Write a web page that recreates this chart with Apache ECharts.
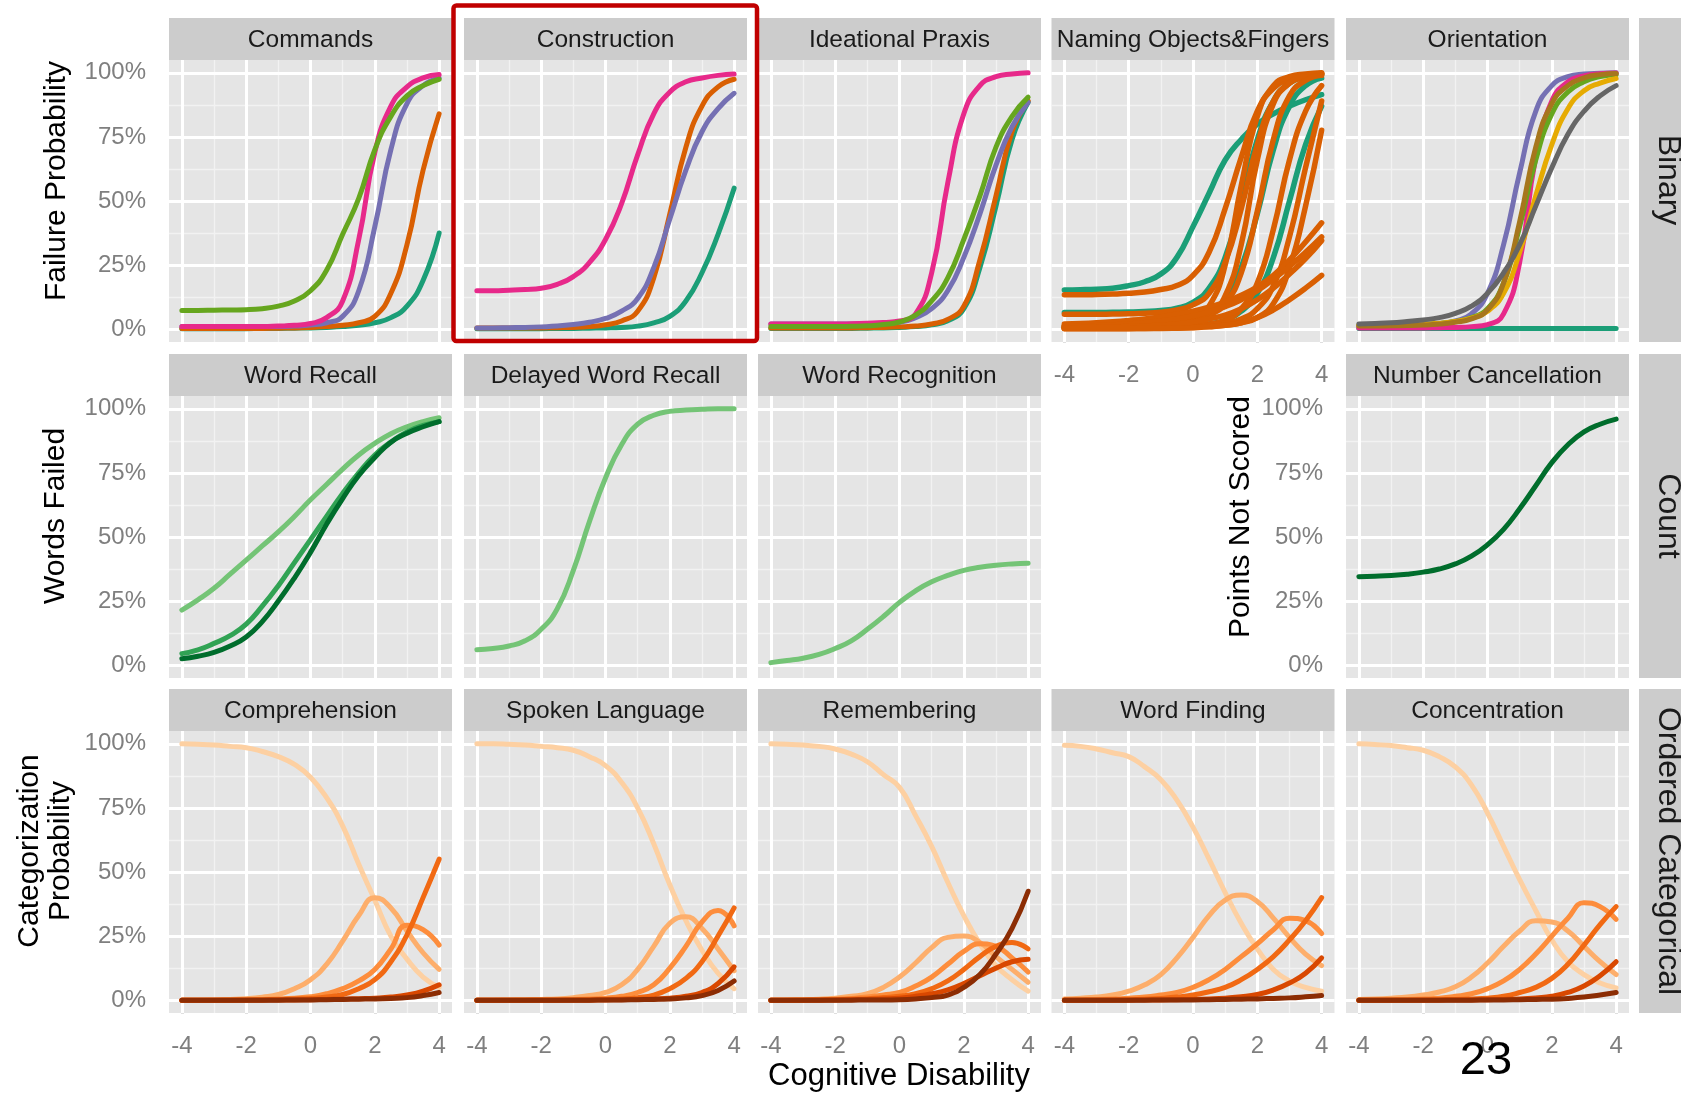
<!DOCTYPE html>
<html>
<head>
<meta charset="utf-8">
<script src="https://cdn.jsdelivr.net/npm/echarts@6/dist/echarts.min.js"></script>
<style>
html, body { margin: 0; padding: 0; background: #ffffff; }
#chart { width: 1681px; height: 1094px; }
</style>
</head>
<body>
<div id="chart"></div>
<script>
// Cognitive disability grid shared by every curve
const theta = [-4, -3.5, -3, -2.5, -2, -1.5, -1, -0.5, 0, 0.5, 1, 1.5, 2, 2.5, 3, 3.5, 4];
const xTicks = [-4, -2, 0, 2, 4];
const xMinor = [-3, -1, 1, 3];
const yTicks = [0, 25, 50, 75, 100];
const yMinor = [12.5, 37.5, 62.5, 87.5];

// ---- Binary items: failure probability (%) ----
const cmdGreen  = [7.3, 7.3, 7.4, 7.5, 7.6, 8, 9, 11, 15, 23, 37, 51, 70, 83, 91, 95, 97.5];
const cmdPink   = [1, 1, 1, 1, 1, 1, 1.2, 1.5, 2.2, 4.5, 11, 35, 69, 87, 94.5, 98, 99.3];
const cmdPurple = [1, 1, 1, 1, 1, 1, 1, 1.2, 1.6, 2.5, 5, 15, 40, 70, 88, 95, 98];
const cmdOrange = [0.3, 0.3, 0.3, 0.3, 0.3, 0.3, 0.4, 0.5, 0.7, 1, 1.5, 2.5, 5, 14, 33, 62, 84];
const cmdTeal   = [0.2, 0.2, 0.2, 0.2, 0.2, 0.3, 0.3, 0.4, 0.5, 0.7, 1, 1.5, 2.5, 4.5, 9, 19, 37.5];

const conPink   = [15, 15, 15.2, 15.5, 16, 17.5, 20.5, 26, 35, 49, 68, 84, 92.5, 96.5, 98, 99, 99.5];
const conOrange = [0.5, 0.5, 0.5, 0.5, 0.5, 0.6, 0.7, 1, 1.7, 3.2, 7, 20, 45, 71, 87, 94.5, 97.5];
const conPurple = [0.5, 0.5, 0.6, 0.7, 0.9, 1.2, 1.8, 2.7, 4.2, 7, 12, 24, 43, 62, 77, 86, 92];
const conTeal   = [0.2, 0.2, 0.2, 0.2, 0.2, 0.3, 0.3, 0.4, 0.5, 0.7, 1.2, 2.5, 5, 11, 22, 37, 55];

const ipPink   = [2, 2, 2, 2, 2, 2.1, 2.3, 2.6, 3.2, 6, 22, 57, 84, 95, 98.5, 99.5, 100];
const ipGreen  = [1, 1, 1, 1, 1, 1.1, 1.3, 1.8, 2.8, 5.5, 11, 20, 35, 52, 71, 83, 90.5];
const ipPurple = [2, 2, 2, 2, 2, 2, 2.1, 2.3, 2.7, 4.5, 8, 15, 28, 45, 64, 79, 88.5];
const ipOrange = [0.5, 0.5, 0.5, 0.5, 0.5, 0.5, 0.6, 0.7, 0.9, 1.2, 2, 3.8, 9, 27, 52, 77, 89];
const ipTeal   = [0.3, 0.3, 0.3, 0.3, 0.3, 0.3, 0.4, 0.5, 0.7, 1, 1.7, 3.3, 8, 24, 48, 74, 88.5];

const nmTeal1 = [15.3, 15.4, 15.6, 16, 17, 18.5, 21.5, 28, 40, 53, 66, 74, 80, 84, 87, 89.5, 91.5];
const nmTeal2 = [6.5, 6.5, 6.5, 6.6, 6.7, 6.9, 7.3, 8.2, 10.5, 16, 28, 50, 74, 89, 96, 98.5, 99.5];
const nmTeal3 = [1, 1, 1, 1, 1, 1.1, 1.3, 1.8, 3, 5.5, 11, 24, 45, 70, 87, 95, 98];
const nmTeal4 = [0.5, 0.5, 0.5, 0.5, 0.5, 0.6, 0.7, 0.9, 1.3, 2, 3.5, 7, 14, 28, 50, 72, 87];
const nmOrange1  = [13.4, 13.4, 13.5, 13.7, 14, 14.5, 15.5, 17, 21, 30, 47, 67, 85, 94, 97.5, 99, 99.5];
const nmOrange2  = [5.8, 5.8, 5.8, 5.9, 6, 6.2, 6.6, 7.5, 9.5, 14, 26, 47, 72, 89, 96, 98.5, 99.5];
const nmOrange3  = [1, 1, 1, 1, 1.1, 1.2, 1.5, 2.2, 4, 9, 25, 56, 83, 95, 98.5, 99.5, 100];
const nmOrange4  = [1, 1, 1, 1, 1, 1.1, 1.3, 1.8, 3, 5.5, 13, 33, 66, 88, 96, 99, 99.7];
const nmOrange5  = [1.5, 1.5, 1.5, 1.5, 1.6, 1.7, 2, 2.5, 3.5, 5.5, 10, 22, 46, 74, 91, 97, 99];
const nmOrange6  = [0.5, 0.5, 0.5, 0.5, 0.5, 0.6, 0.7, 0.9, 1.3, 2, 3.5, 8, 18, 39, 66, 85, 95];
const nmOrange7  = [0.5, 0.5, 0.5, 0.5, 0.5, 0.5, 0.6, 0.7, 1, 1.5, 2.3, 4, 8, 17, 36, 63, 89];
const nmOrange8  = [0.3, 0.3, 0.3, 0.3, 0.3, 0.3, 0.4, 0.5, 0.7, 1, 1.5, 2.5, 4.5, 10, 24, 48, 77.6];
const nmOrange9  = [2, 2.2, 2.5, 2.9, 3.4, 4, 4.8, 5.8, 7, 8.6, 10.6, 13.2, 16.5, 21, 27, 34, 41.5];
const nmOrange10 = [1, 1.1, 1.3, 1.6, 2, 2.5, 3.2, 4, 5.2, 6.8, 8.8, 11.5, 15, 19.5, 24.5, 30, 36];
const nmOrange11 = [0.5, 0.6, 0.7, 0.8, 1, 1.2, 1.5, 2, 2.8, 4, 5.5, 8, 11.5, 16, 21.5, 27.5, 34.5];
const nmOrange12 = [0.2, 0.2, 0.2, 0.2, 0.2, 0.3, 0.3, 0.4, 0.6, 0.9, 1.5, 2.5, 4.5, 7.5, 11.5, 16, 21];

const orTeal   = [0.3, 0.3, 0.3, 0.3, 0.3, 0.3, 0.3, 0.3, 0.3, 0.3, 0.3, 0.3, 0.3, 0.3, 0.3, 0.3, 0.3];
const orPurple = [1, 1, 1.1, 1.3, 1.6, 2.2, 3.2, 6, 14, 33, 61, 85, 95, 98.5, 99.5, 99.8, 100];
const orPink   = [0.5, 0.5, 0.5, 0.5, 0.5, 0.6, 0.7, 1, 1.8, 6, 26, 67, 89, 96.5, 98.8, 99.6, 99.9];
const orGreen  = [1.5, 1.5, 1.6, 1.7, 1.9, 2.2, 3, 4.5, 8, 18, 40, 66, 84, 92.5, 96.5, 98.5, 99.3];
const orYellow = [1.5, 1.5, 1.6, 1.7, 1.9, 2.3, 3, 4.3, 7, 14, 30, 52, 72, 86, 93, 96, 97.8];
const orBrown  = [1.2, 1.2, 1.3, 1.4, 1.6, 2, 2.7, 4, 7.5, 18, 42, 71, 88, 95, 98, 99.3, 99.7];
const orGrey   = [2, 2.2, 2.5, 3, 3.6, 4.5, 6.2, 9, 14, 22, 33, 48, 63, 76, 85, 91, 95];

// ---- Count items: share failed / not scored (%) ----
const wrLight = [21.5, 25.5, 30, 35.5, 41, 46.5, 52, 58, 64.5, 70.5, 76.5, 82, 86.5, 90.3, 93, 95, 96.5];
const wrMid   = [4.5, 6, 8.5, 11.5, 16, 23, 31, 40, 49, 58, 67, 75, 82, 87, 91, 93.5, 95];
const wrDark  = [2.5, 3.5, 5, 7.5, 11, 17, 25, 34, 44, 55, 65, 74, 81, 87, 90.5, 93, 95];
const dwrLight = [6, 6.5, 7.5, 9.5, 14, 22, 37, 56, 73, 86, 94, 97.5, 99, 99.5, 99.8, 100, 100];
const wrecLight = [1, 1.8, 2.7, 4.2, 6.5, 9.5, 14, 19, 24.5, 29, 32.5, 35, 37, 38.2, 39, 39.5, 39.8];
const ncDark = [34.5, 34.7, 35, 35.5, 36.3, 37.5, 39.5, 42.5, 47, 53, 61, 70, 79, 86, 91, 94, 96];

// ---- Ordered categorical items: category probability (%) ----
const comCat0 = [100, 99.8, 99.5, 99, 98.5, 97, 95, 92, 87, 79, 68, 53, 39, 25, 16, 9, 5];
const comCat1 = [0, 0, 0.1, 0.3, 0.6, 1.2, 2.2, 4.5, 8, 14, 23, 33, 40, 36, 27, 18.5, 12];
const comCat2 = [0, 0, 0, 0.1, 0.2, 0.3, 0.5, 0.8, 1.3, 2.5, 4.5, 7.5, 12, 20, 29.2, 27.5, 21.5];
const comCat3 = [0, 0, 0, 0, 0.1, 0.2, 0.3, 0.5, 0.7, 1.2, 2.2, 4.5, 8, 15, 25.5, 40, 55];
const comCat4 = [0, 0, 0, 0, 0, 0, 0.1, 0.1, 0.2, 0.3, 0.4, 0.6, 0.8, 1.2, 2, 3.5, 6];
const comCat5 = [0, 0, 0, 0, 0, 0, 0, 0.1, 0.1, 0.2, 0.3, 0.4, 0.5, 0.7, 1, 1.8, 3];

const slCat0 = [100, 100, 99.8, 99.5, 99, 98.5, 97.5, 95, 91.5, 85, 75, 61, 45, 31, 19.5, 10.5, 4.5];
const slCat1 = [0, 0, 0.1, 0.2, 0.3, 0.5, 1, 1.8, 3, 6, 12, 21, 30, 32.5, 28, 20, 11.5];
const slCat2 = [0, 0, 0, 0, 0.1, 0.2, 0.3, 0.5, 0.8, 1.5, 3, 6, 12.5, 21, 30.5, 35, 29];
const slCat3 = [0, 0, 0, 0, 0, 0, 0.1, 0.2, 0.3, 0.5, 1, 2, 4.5, 8.5, 15, 25, 36];
const slCat4 = [0, 0, 0, 0, 0, 0, 0, 0, 0.1, 0.2, 0.3, 0.5, 0.8, 1.5, 3, 6.5, 13];
const slCat5 = [0, 0, 0, 0, 0, 0, 0, 0, 0.1, 0.1, 0.2, 0.3, 0.5, 0.9, 1.8, 3.8, 7.5];

const remCat0 = [100, 99.8, 99.5, 99, 98, 96, 93, 88, 83, 72, 60, 46, 33, 22, 13.5, 8, 3.5];
const remCat1 = [0, 0.1, 0.2, 0.4, 0.8, 1.5, 2.5, 5, 9, 14.5, 20.5, 24.5, 25, 22.5, 17, 12, 7];
const remCat2 = [0, 0, 0.1, 0.2, 0.4, 0.7, 1.2, 2, 3, 5.5, 9, 14, 19, 22, 21, 16.5, 11];
const remCat3 = [0, 0, 0, 0.1, 0.2, 0.4, 0.6, 1, 1.5, 2.5, 4.5, 7.5, 12, 17, 21, 22.5, 20];
const remCat4 = [0, 0, 0, 0, 0.1, 0.2, 0.3, 0.5, 0.8, 1.5, 2.5, 4, 6.5, 9.5, 12.5, 15, 16];
const remCat5 = [0, 0, 0, 0, 0, 0, 0.1, 0.1, 0.2, 0.5, 1, 2, 5, 10, 18, 28, 42.5];

const wfCat0 = [99.4, 99, 98, 96.5, 95, 91, 86, 78, 67.5, 55, 42, 30, 20, 12, 7.5, 5, 3.5];
const wfCat1 = [0.5, 0.8, 1.2, 2, 3.5, 6, 10, 16.5, 24.5, 33, 39, 41, 38.5, 32, 24.5, 18, 13.5];
const wfCat2 = [0.1, 0.2, 0.3, 0.5, 0.8, 1.2, 2, 3, 5, 8, 12, 17, 22, 27.5, 32, 31, 26];
const wfCat3 = [0, 0, 0, 0.1, 0.2, 0.4, 0.7, 1.2, 2, 3.3, 5, 8, 12, 17, 23.5, 31, 40];
const wfCat4 = [0, 0, 0, 0, 0, 0.1, 0.1, 0.2, 0.3, 0.5, 0.8, 1.3, 2.2, 4, 6.7, 10.5, 16.5];
const wfCat5 = [0, 0, 0, 0, 0, 0, 0.1, 0.1, 0.1, 0.2, 0.3, 0.4, 0.5, 0.7, 0.9, 1.3, 1.8];

const ccCat0 = [100, 99.7, 99.3, 98.5, 97.5, 95, 91, 84, 73, 60, 47, 35, 23.5, 15, 10, 6.7, 4.8];
const ccCat1 = [0.3, 0.5, 0.8, 1.2, 2, 3.2, 5.2, 9, 14.5, 21, 27, 31, 30.5, 27, 21, 15, 10];
const ccCat2 = [0, 0.1, 0.2, 0.3, 0.5, 0.8, 1.5, 2.5, 4.5, 7.5, 12, 18, 25, 32, 38, 36.5, 31.5];
const ccCat3 = [0, 0, 0, 0, 0.1, 0.2, 0.3, 0.5, 0.8, 1.5, 3, 5, 8.5, 14, 21.5, 29.5, 36.5];
const ccCat4 = [0, 0, 0, 0, 0, 0, 0.1, 0.1, 0.2, 0.3, 0.5, 0.9, 1.5, 3, 5.5, 9.5, 15];
const ccCat5 = [0, 0, 0, 0, 0, 0, 0, 0, 0.1, 0.1, 0.2, 0.3, 0.4, 0.7, 1.2, 2, 3];

// Palettes
const dark2 = { teal: '#1B9E77', orange: '#D95F02', purple: '#7570B3', pink: '#E7298A',
                green: '#66A61E', yellow: '#E6AB02', brown: '#A6761D', grey: '#666666' };
const greens = { light: '#74C476', mid: '#31A354', dark: '#006D2C' };
const oranges = ['#FDD0A2', '#FDAE6B', '#FD8D3C', '#F16913', '#D94801', '#8C2D04'];

// Panel layout (pixels)
const colLeft = [169, 464, 758, 1051.5, 1346];
const rowTop = [60, 396, 731];
const PW = 283, PH = 282, STRIP = 42;
const FONT = '"Liberation Sans", Arial, Helvetica, sans-serif';

const panels = [
  { title: 'Commands', row: 0, col: 0, yLab: true,
    lines: [[cmdTeal, dark2.teal], [cmdOrange, dark2.orange], [cmdPurple, dark2.purple], [cmdPink, dark2.pink], [cmdGreen, dark2.green]] },
  { title: 'Construction', row: 0, col: 1,
    lines: [[conTeal, dark2.teal], [conOrange, dark2.orange], [conPurple, dark2.purple], [conPink, dark2.pink]] },
  { title: 'Ideational Praxis', row: 0, col: 2,
    lines: [[ipTeal, dark2.teal], [ipOrange, dark2.orange], [ipPurple, dark2.purple], [ipPink, dark2.pink], [ipGreen, dark2.green]] },
  { title: 'Naming Objects&Fingers', row: 0, col: 3, xLab: true, width: 5.5,
    lines: [[nmTeal1, dark2.teal], [nmTeal2, dark2.teal], [nmTeal3, dark2.teal], [nmTeal4, dark2.teal],
            [nmOrange1, dark2.orange], [nmOrange2, dark2.orange], [nmOrange3, dark2.orange], [nmOrange4, dark2.orange],
            [nmOrange5, dark2.orange], [nmOrange6, dark2.orange], [nmOrange7, dark2.orange], [nmOrange8, dark2.orange],
            [nmOrange9, dark2.orange], [nmOrange10, dark2.orange], [nmOrange11, dark2.orange], [nmOrange12, dark2.orange]] },
  { title: 'Orientation', row: 0, col: 4,
    lines: [[orTeal, dark2.teal], [orPurple, dark2.purple], [orPink, dark2.pink], [orGreen, dark2.green],
            [orYellow, dark2.yellow], [orBrown, dark2.brown], [orGrey, dark2.grey]] },
  { title: 'Word Recall', row: 1, col: 0, yLab: true,
    lines: [[wrLight, greens.light], [wrMid, greens.mid], [wrDark, greens.dark]] },
  { title: 'Delayed Word Recall', row: 1, col: 1, lines: [[dwrLight, greens.light]] },
  { title: 'Word Recognition', row: 1, col: 2, lines: [[wrecLight, greens.light]] },
  { title: 'Number Cancellation', row: 1, col: 4, yLab: true, lines: [[ncDark, greens.dark]] },
  { title: 'Comprehension', row: 2, col: 0, yLab: true, xLab: true,
    lines: [comCat0, comCat1, comCat2, comCat3, comCat4, comCat5].map((d, k) => [d, oranges[k]]) },
  { title: 'Spoken Language', row: 2, col: 1, xLab: true,
    lines: [slCat0, slCat1, slCat2, slCat3, slCat4, slCat5].map((d, k) => [d, oranges[k]]) },
  { title: 'Remembering', row: 2, col: 2, xLab: true,
    lines: [remCat0, remCat1, remCat2, remCat3, remCat4, remCat5].map((d, k) => [d, oranges[k]]) },
  { title: 'Word Finding', row: 2, col: 3, xLab: true,
    lines: [wfCat0, wfCat1, wfCat2, wfCat3, wfCat4, wfCat5].map((d, k) => [d, oranges[k]]) },
  { title: 'Concentration', row: 2, col: 4, xLab: true,
    lines: [ccCat0, ccCat1, ccCat2, ccCat3, ccCat4, ccCat5].map((d, k) => [d, oranges[k]]) }
];

const rowStrips = ['Binary', 'Count', 'Ordered Categorical'];

const grids = [], xAxes = [], yAxes = [], series = [], graphics = [];
const tickStyle = { color: '#7F7F7F', width: 3 };
const labelStyle = { fontSize: 24, color: '#7F7F7F', fontFamily: FONT, lineHeight: 24 };

panels.forEach((p, i) => {
  const left = colLeft[p.col], top = rowTop[p.row];
  grids.push({ left: left, top: top, width: PW, height: PH, show: true,
               backgroundColor: '#E5E5E5', borderWidth: 0, containLabel: false });
  xAxes.push({
    gridIndex: i, type: 'value', min: -4.4, max: 4.4,
    axisLine: { show: false }, splitLine: { show: false },
    axisTick: { show: !!p.xLab, customValues: xTicks, length: 13, lineStyle: tickStyle },
    axisLabel: Object.assign({ show: !!p.xLab, customValues: xTicks, margin: 21.5 }, labelStyle)
  });
  yAxes.push({
    gridIndex: i, type: 'value', min: -5, max: 105,
    axisLine: { show: false }, splitLine: { show: false },
    axisTick: { show: !!p.yLab, customValues: yTicks, length: 13, lineStyle: tickStyle },
    axisLabel: Object.assign({ show: !!p.yLab, customValues: yTicks, margin: 23,
                               formatter: v => v + '%' }, labelStyle)
  });
  // panel grid lines
  const minorStyle = { color: '#F2F2F2', width: 1.3, type: 'solid' };
  const majorStyle = { color: '#FFFFFF', width: 3, type: 'solid' };
  series.push({
    type: 'line', xAxisIndex: i, yAxisIndex: i, data: [], silent: true, z: 1,
    markLine: {
      silent: true, z: 1, animation: false, symbol: ['none', 'none'],
      label: { show: false }, emphasis: { disabled: true },
      data: [].concat(
        xMinor.map(v => ({ xAxis: v, lineStyle: minorStyle })),
        yMinor.map(v => ({ yAxis: v, lineStyle: minorStyle })),
        xTicks.map(v => ({ xAxis: v, lineStyle: majorStyle })),
        yTicks.map(v => ({ yAxis: v, lineStyle: majorStyle }))
      )
    }
  });
  p.lines.forEach(([vals, color]) => {
    series.push({
      type: 'line', xAxisIndex: i, yAxisIndex: i, z: 3, silent: true,
      data: theta.map((t, k) => [t, vals[k]]),
      symbol: 'none', showSymbol: false, smooth: 0.5,
      color: color, lineStyle: { color: color, width: p.width || 5, cap: 'round', join: 'round' },
      animation: false
    });
  });
  // facet strip
  graphics.push({ type: 'rect', z: 10, shape: { x: left, y: top - STRIP, width: PW, height: STRIP },
                  style: { fill: '#CCCCCC' } });
  graphics.push({ type: 'text', z: 11, x: left + PW / 2, y: top - STRIP / 2 + 1,
                  style: { text: p.title, font: '24.5px ' + FONT, fill: '#1A1A1A',
                           align: 'center', verticalAlign: 'middle' } });
});

// row strips on the right
rowStrips.forEach((t, r) => {
  const y0 = rowTop[r] - STRIP, h = PH + STRIP;
  graphics.push({ type: 'rect', z: 10, shape: { x: 1639, y: y0, width: 42, height: h },
                  style: { fill: '#CCCCCC' } });
  graphics.push({ type: 'text', z: 11, x: 1668, y: y0 + h / 2, rotation: -Math.PI / 2,
                  style: { text: t, font: '32px ' + FONT, fill: '#1A1A1A',
                           align: 'center', verticalAlign: 'middle' } });
});

// axis titles
const vTitle = (text, x, y, extra) => ({
  type: 'text', z: 11, x: x, y: y, rotation: Math.PI / 2,
  style: Object.assign({ text: text, font: '30px ' + FONT, fill: '#000000',
                         align: 'center', verticalAlign: 'middle' }, extra || {})
});
graphics.push(vTitle('Failure Probability', 57, 181));
graphics.push(vTitle('Words Failed', 56, 516));
graphics.push(vTitle('Categorization\nProbability', 45, 851, { lineHeight: 31 }));
graphics.push(vTitle('Points Not Scored', 1241, 517));
graphics.push({ type: 'text', z: 11, x: 899, y: 1076,
                style: { text: 'Cognitive Disability', font: '31px ' + FONT, fill: '#000000',
                         align: 'center', verticalAlign: 'middle' } });
graphics.push({ type: 'text', z: 11, x: 1486, y: 1061,
                style: { text: '23', font: '47px ' + FONT, fill: '#000000',
                         align: 'center', verticalAlign: 'middle' } });

// highlight frame around the Construction panel
graphics.push({ type: 'rect', z: 100,
                shape: { x: 453.5, y: 5.5, width: 303.5, height: 335.5, r: 3 },
                style: { fill: 'none', stroke: '#C00000', lineWidth: 4.5 } });

const chart = echarts.init(document.getElementById('chart'), null, { renderer: 'canvas' });
chart.setOption({
  backgroundColor: '#FFFFFF',
  animation: false,
  grid: grids,
  xAxis: xAxes,
  yAxis: yAxes,
  series: series,
  graphic: { elements: graphics }
});
</script>
</body>
</html>
